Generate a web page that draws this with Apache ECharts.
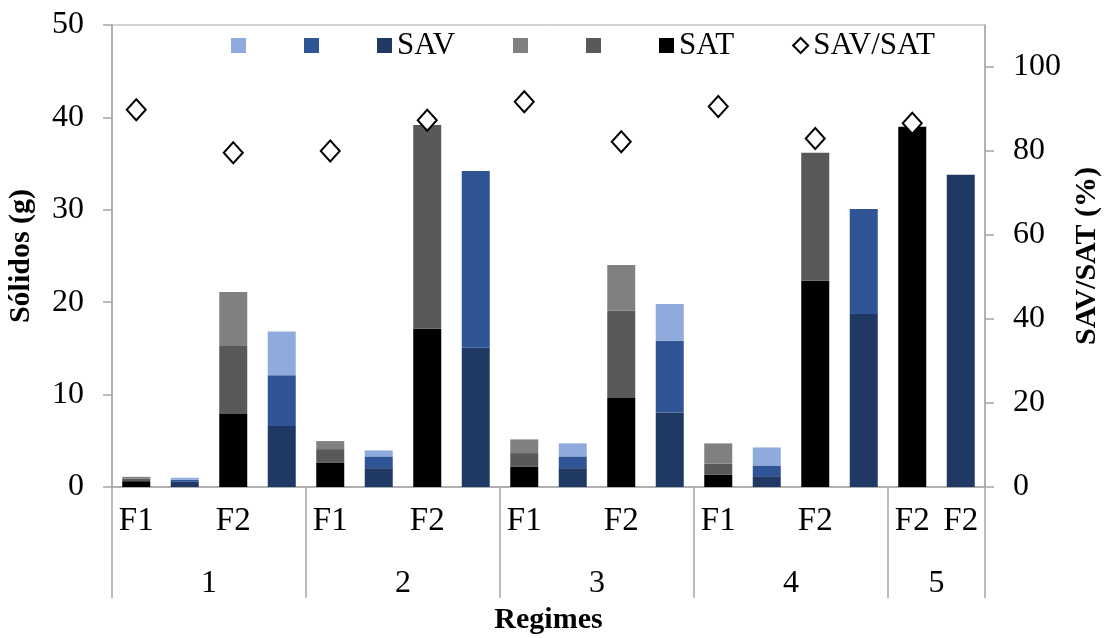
<!DOCTYPE html>
<html>
<head>
<meta charset="utf-8">
<script src="https://cdn.jsdelivr.net/npm/echarts@6/dist/echarts.min.js"></script>
<style>
html,body{margin:0;padding:0;background:#fff;}
#chart{width:1104px;height:638px;}
</style>
</head>
<body>
<div id="chart"></div>
<script>
// ---- Data ----
const slotLabels = ['F1','','F2','','F1','','F2','','F1','','F2','','F1','','F2','','F2','F2'];
const groupLabels = ['1','2','3','4','5'];
const groupSizes = [4,4,4,4,2];

// SAT stack (black bottom, dark grey middle, grey top)
const satA = [0.63,null,7.9,null,2.66,null,17.12,null,2.22,null,9.63,null,1.32,null,22.32,null,38.99,null];
const satB = [0.26,null,7.37,null,1.44,null,22.05,null,1.45,null,9.44,null,1.23,null,13.85,null,null,null];
const satC = [0.21,null,5.83,null,0.87,null,null,null,1.48,null,4.95,null,2.17,null,null,null,null,null];
// SAV stack (navy bottom, blue middle, light blue top)
const savA = [null,0.56,null,6.6,null,2.04,null,15.06,null,2.04,null,8.05,null,1.17,null,18.71,null,33.78];
const savB = [null,0.22,null,5.49,null,1.27,null,19.14,null,1.27,null,7.77,null,1.16,null,11.39,null,null];
const savC = [null,0.22,null,4.74,null,0.65,null,null,null,1.41,null,3.98,null,1.95,null,null,null,null];
// SAV/SAT ratio (%)
const ratio = [89.8,null,79.6,null,80.0,null,87.3,null,91.7,null,82.2,null,90.6,null,83.0,null,86.6,null];

const leftTicks = [0,10,20,30,40,50];
const rightTicks = [0,20,40,60,80,100];

// ---- Derived positions for the group level of the axis ----
const bounds = [0];
groupSizes.forEach(s => bounds.push(bounds[bounds.length-1] + s));
const centers = groupSizes.map((s,i) => bounds[i] + s/2);

const FONT = 'Liberation Serif';
const GREY = '#A6A6A6';

const chart = echarts.init(document.getElementById('chart'));
const barBase = {type:'bar', stack:'all', barWidth:28, xAxisIndex:0, yAxisIndex:0};
const option = {
  animation:false,
  textStyle:{fontFamily:FONT, color:'#000'},
  grid:{left:112, right:119, top:25, bottom:151, containLabel:false, outerBoundsMode:'none',
        show:true, borderColor:GREY, borderWidth:1},
  legend:{
    left:231, top:30, padding:0, itemWidth:15, itemHeight:15, itemGap:58,
    textStyle:{fontFamily:FONT, fontSize:31, color:'#000'},
    formatter: n => (n.indexOf('-') >= 0 ? '' : n),
    data:[
      {name:'SAV-c', icon:'rect'},{name:'SAV-b', icon:'rect'},{name:'SAV', icon:'rect'},
      {name:'SAT-c', icon:'rect'},{name:'SAT-b', icon:'rect'},{name:'SAT', icon:'rect'},
      {name:'SAV/SAT'}
    ]
  },
  xAxis:[
    {
      type:'category', data:slotLabels, position:'bottom', boundaryGap:true,
      axisLine:{show:true, lineStyle:{color:GREY, width:1.5}},
      axisTick:{show:false},
      axisLabel:{interval:0, fontSize:33, fontFamily:FONT, color:'#000', margin:18},
      name:'Regimes', nameLocation:'middle', nameGap:118,
      nameTextStyle:{fontFamily:FONT, fontSize:30, fontWeight:'bold', color:'#000'}
    },
    {
      type:'value', min:0, max:bounds[bounds.length-1], position:'bottom',
      axisLine:{show:false}, splitLine:{show:false},
      axisTick:{show:true, length:111, lineStyle:{color:GREY, width:1.5}, customValues:bounds},
      axisLabel:{show:true, fontSize:32, fontFamily:FONT, color:'#000', margin:81,
        customValues:centers,
        formatter: v => { const i = centers.indexOf(v); return i >= 0 ? groupLabels[i] : ''; }}
    }
  ],
  yAxis:[
    {
      type:'value', min:0, max:50, interval:10, position:'left',
      axisLine:{show:true, lineStyle:{color:GREY, width:1.5}},
      axisTick:{show:true, length:9, lineStyle:{color:GREY, width:1.5}},
      splitLine:{show:false},
      axisLabel:{fontSize:32, fontFamily:FONT, color:'#000', margin:28,
        customValues:leftTicks},
      name:'Sólidos (g)', nameLocation:'middle', nameGap:76, nameRotate:90,
      nameTextStyle:{fontFamily:FONT, fontSize:30, fontWeight:'bold', color:'#000'}
    },
    {
      type:'value', min:0, max:110, interval:20, position:'right',
      axisLine:{show:true, lineStyle:{color:GREY, width:1.5}},
      axisTick:{show:true, length:9, lineStyle:{color:GREY, width:1.5}, customValues:rightTicks},
      splitLine:{show:false},
      axisLabel:{fontSize:32, fontFamily:FONT, color:'#000', margin:28, customValues:rightTicks},
      name:'SAV/SAT (%)', nameLocation:'middle', nameGap:85, nameRotate:90,
      nameTextStyle:{fontFamily:FONT, fontSize:30, fontWeight:'bold', color:'#000'}
    }
  ],
  series:[
    Object.assign({}, barBase, {name:'SAT', data:satA, itemStyle:{color:'#000000'}}),
    Object.assign({}, barBase, {name:'SAT-b', data:satB, itemStyle:{color:'#595959'}}),
    Object.assign({}, barBase, {name:'SAT-c', data:satC, itemStyle:{color:'#808080'}}),
    Object.assign({}, barBase, {name:'SAV', data:savA, itemStyle:{color:'#203864'}}),
    Object.assign({}, barBase, {name:'SAV-b', data:savB, itemStyle:{color:'#2F5597'}}),
    Object.assign({}, barBase, {name:'SAV-c', data:savC, itemStyle:{color:'#8FAADC'}}),
    {
      name:'SAV/SAT', type:'scatter', xAxisIndex:0, yAxisIndex:1, data:ratio,
      symbol:'diamond', symbolSize:[19,21], z:5,
      itemStyle:{color:'#ffffff', borderColor:'#000000', borderWidth:2, opacity:1}
    }
  ]
};
chart.setOption(option);
</script>
</body>
</html>
